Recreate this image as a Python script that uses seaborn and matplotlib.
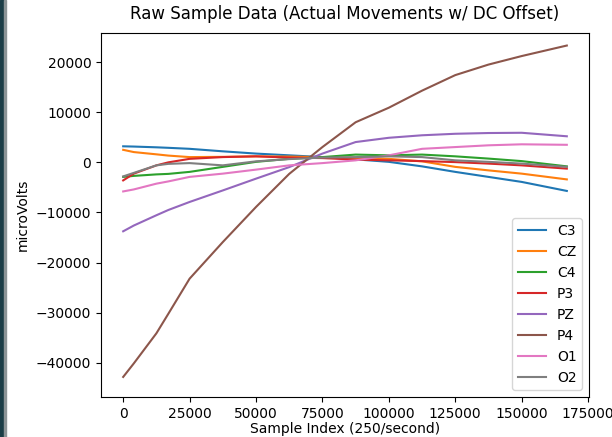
import matplotlib
matplotlib.use("Agg")
import matplotlib.pyplot as plt
from matplotlib.patches import Rectangle
import seaborn as sns
import pandas as pd

# sample index grid (microVolts)
idx = [0, 4000, 12500, 17000, 25000, 37500, 50000, 62500, 75000,
       87500, 100000, 112500, 125000, 137500, 150000, 167000]

C3 = [3200, 3150, 3000, 2900, 2700, 2200, 1750, 1400, 1050,
      600, 100, -800, -1900, -2900, -3900, -5700]
CZ = [2500, 2050, 1600, 1350, 1050, 1100, 1200, 1150, 1050,
      900, 700, 200, -900, -1600, -2250, -3400]
C4 = [-2900, -2700, -2400, -2300, -1900, -900, 100, 700, 1050,
      1550, 1400, 1550, 1200, 750, 250, -800]
P3 = [-3600, -2250, -600, 0, 700, 1050, 1200, 950, 850,
      550, 400, 250, 50, -250, -600, -1250]
PZ = [-13750, -12600, -10550, -9500, -7900, -5600, -3250, -950, 1750,
      4050, 4900, 5400, 5700, 5850, 5900, 5200]
P4 = [-42800, -40100, -34100, -30200, -23200, -15900, -8900, -2300, 3050,
      8000, 10900, 14300, 17400, 19500, 21200, 23300]
O1 = [-5800, -5400, -4250, -3800, -2900, -2250, -1450, -600, -150,
      400, 1400, 2700, 3050, 3400, 3600, 3500]
O2 = [-2800, -2100, -600, -300, -150, -600, 200, 650, 950,
      1050, 1200, 1050, 400, 100, -250, -900]

channels = ["C3", "CZ", "C4", "P3", "PZ", "P4", "O1", "O2"]
data = [C3, CZ, C4, P3, PZ, P4, O1, O2]

fig = plt.figure(figsize=(6.12, 4.37), dpi=100)
ax = fig.add_axes([101/612, 40/437, 488/612, 364/437])

colors = sns.color_palette("tab10", 8)
for name, vals, c in zip(channels, data, colors):
    df = pd.DataFrame({"x": idx, "y": vals})
    sns.lineplot(data=df, x="x", y="y", ax=ax, label=name, color=c, linewidth=1.5)

ax.set_title("Raw Sample Data (Actual Movements w/ DC Offset)", pad=10)
ax.set_xlabel("Sample Index (250/second)", labelpad=1)
ax.set_ylabel("microVolts")
ax.set_xticks([0, 25000, 50000, 75000, 100000, 125000, 150000, 175000])
ax.set_ylim(-46800, 25800)
ax.legend(loc="lower right")

# dark window edge on the left of the screenshot
fig.patches.append(Rectangle((0, 0), 4/612, 1, transform=fig.transFigure,
                             color="#1b3d46", zorder=10))
fig.patches.append(Rectangle((4/612, 0), 1.5/612, 1, transform=fig.transFigure,
                             color="#8c9496", zorder=10))

fig.savefig("out.png", dpi=100)
